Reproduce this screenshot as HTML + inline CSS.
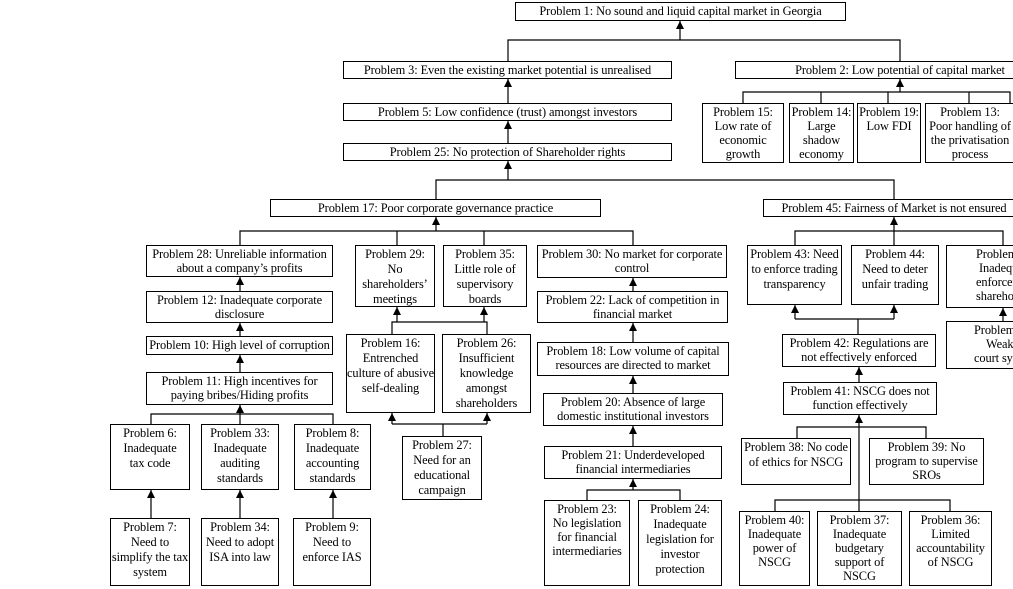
<!DOCTYPE html>
<html><head><meta charset="utf-8"><style>
html,body{margin:0;padding:0;background:#fff;}
#c{position:relative;width:1013px;height:589px;overflow:hidden;font-family:"Liberation Serif",serif;font-size:12.4px;color:#000;}
.b{position:absolute;border:1px solid #000;background:#fff;box-sizing:border-box;text-align:center;line-height:14px;padding-top:1px;white-space:nowrap;overflow:hidden;letter-spacing:-0.1px;}
.t{line-height:15px;}
svg{position:absolute;left:0;top:0;}
</style></head><body><div id="c">
<svg width="1013" height="589" viewBox="0 0 1013 589">
<defs><marker id="a" markerWidth="8" markerHeight="8" refX="4" refY="0" orient="0" markerUnits="userSpaceOnUse" viewBox="0 0 8 8"><path d="M0,8 L4,0 L8,8 Z" fill="#000"/></marker></defs>
<g stroke="#000" stroke-width="1.2" fill="none">
<path d="M680,40V21" marker-end="url(#a)"/>
<path d="M508,61V40H900V61"/>
<path d="M900,92V79" marker-end="url(#a)"/>
<path d="M743,103V92H1010V103M821,92V103M888,92V103M969,92V103"/>
<path d="M508,103V79" marker-end="url(#a)"/>
<path d="M508,143V121" marker-end="url(#a)"/>
<path d="M508,180V161" marker-end="url(#a)"/>
<path d="M436,199V180H894V199"/>
<path d="M436,231V217" marker-end="url(#a)"/>
<path d="M240,245V231H633V245M397,231V245M484,231V245"/>
<path d="M240,291V277" marker-end="url(#a)"/>
<path d="M240,336V323" marker-end="url(#a)"/>
<path d="M240,372V355" marker-end="url(#a)"/>
<path d="M240,414V405" marker-end="url(#a)"/>
<path d="M151,424V414H333V424M240,414V424"/>
<path d="M151,518V490" marker-end="url(#a)"/>
<path d="M240,518V490" marker-end="url(#a)"/>
<path d="M333,518V490" marker-end="url(#a)"/>
<path d="M397,322V307" marker-end="url(#a)"/>
<path d="M484,322V307" marker-end="url(#a)"/>
<path d="M392,334V322H487V334"/>
<path d="M392,424V413" marker-end="url(#a)"/>
<path d="M487,424V413" marker-end="url(#a)"/>
<path d="M392,424H487M443,424V436"/>
<path d="M633,291V278" marker-end="url(#a)"/>
<path d="M633,342V323" marker-end="url(#a)"/>
<path d="M633,393V376" marker-end="url(#a)"/>
<path d="M633,446V426" marker-end="url(#a)"/>
<path d="M633,490V479" marker-end="url(#a)"/>
<path d="M587,500V490H680V500"/>
<path d="M894,231V217" marker-end="url(#a)"/>
<path d="M795,245V231H1003V245M894,231V245"/>
<path d="M795,319V305" marker-end="url(#a)"/>
<path d="M894,319V305" marker-end="url(#a)"/>
<path d="M795,319H894M858,319V334"/>
<path d="M1003,321V308" marker-end="url(#a)"/>
<path d="M859,382V367" marker-end="url(#a)"/>
<path d="M859,511V415" marker-end="url(#a)"/>
<path d="M797,438V427H926V438"/>
<path d="M775,511V500H950V511"/>
</g></svg>

<div class="b" style="left:515px;top:2px;width:331px;height:19px">Problem 1: No sound and liquid capital market in Georgia</div>
<div class="b" style="left:343px;top:61px;width:329px;height:18px">Problem 3: Even the existing market potential is unrealised</div>
<div class="b" style="left:735px;top:61px;width:330px;height:18px">Problem 2: Low potential of capital market</div>
<div class="b" style="left:702px;top:103px;width:82px;height:60px">Problem 15:<br>Low rate of<br>economic<br>growth</div>
<div class="b" style="left:789px;top:103px;width:65px;height:60px">Problem 14:<br>Large<br>shadow<br>economy</div>
<div class="b" style="left:857px;top:103px;width:64px;height:60px">Problem 19:<br>Low FDI</div>
<div class="b" style="left:925px;top:103px;width:90px;height:60px">Problem 13:<br>Poor handling of<br>the privatisation<br>process</div>
<div class="b" style="left:343px;top:103px;width:329px;height:18px">Problem 5: Low confidence (trust) amongst investors</div>
<div class="b" style="left:343px;top:143px;width:329px;height:18px">Problem 25: No protection of Shareholder rights</div>
<div class="b" style="left:270px;top:199px;width:331px;height:18px">Problem 17: Poor corporate governance practice</div>
<div class="b" style="left:763px;top:199px;width:262px;height:18px">Problem 45: Fairness of Market is not ensured</div>

<div class="b" style="left:146px;top:245px;width:187px;height:32px">Problem 28: Unreliable information<br>about a company’s profits</div>
<div class="b" style="left:146px;top:291px;width:187px;height:32px">Problem 12: Inadequate corporate<br>disclosure</div>
<div class="b" style="left:146px;top:336px;width:187px;height:19px">Problem 10: High level of corruption</div>
<div class="b" style="left:146px;top:372px;width:187px;height:33px">Problem 11: High incentives for<br>paying bribes/Hiding profits</div>
<div class="b t" style="left:110px;top:424px;width:80px;height:66px">Problem 6:<br>Inadequate<br>tax code</div>
<div class="b t" style="left:201px;top:424px;width:78px;height:66px">Problem 33:<br>Inadequate<br>auditing<br>standards</div>
<div class="b t" style="left:294px;top:424px;width:77px;height:66px">Problem 8:<br>Inadequate<br>accounting<br>standards</div>
<div class="b t" style="left:110px;top:518px;width:80px;height:68px">Problem 7:<br>Need to<br>simplify the tax<br>system</div>
<div class="b t" style="left:201px;top:518px;width:78px;height:68px">Problem 34:<br>Need to adopt<br>ISA into law</div>
<div class="b t" style="left:293px;top:518px;width:78px;height:68px">Problem 9:<br>Need to<br>enforce IAS</div>

<div class="b t" style="left:355px;top:245px;width:80px;height:62px">Problem 29:<br>No<br>shareholders’<br>meetings</div>
<div class="b t" style="left:443px;top:245px;width:84px;height:62px">Problem 35:<br>Little role of<br>supervisory<br>boards</div>
<div class="b t" style="left:346px;top:334px;width:89px;height:79px">Problem 16:<br>Entrenched<br>culture of abusive<br>self-dealing</div>
<div class="b t" style="left:442px;top:334px;width:89px;height:79px">Problem 26:<br>Insufficient<br>knowledge<br>amongst<br>shareholders</div>
<div class="b t" style="left:402px;top:436px;width:80px;height:64px">Problem 27:<br>Need for an<br>educational<br>campaign</div>

<div class="b" style="left:537px;top:245px;width:190px;height:33px">Problem 30: No market for corporate<br>control</div>
<div class="b" style="left:537px;top:291px;width:191px;height:32px">Problem 22: Lack of competition in<br>financial market</div>
<div class="b" style="left:537px;top:342px;width:192px;height:34px">Problem 18: Low volume of capital<br>resources are directed to market</div>
<div class="b" style="left:543px;top:393px;width:180px;height:33px">Problem 20: Absence of large<br>domestic institutional investors</div>
<div class="b" style="left:544px;top:446px;width:178px;height:33px">Problem 21: Underdeveloped<br>financial intermediaries</div>
<div class="b" style="left:544px;top:500px;width:86px;height:86px">Problem 23:<br>No legislation<br>for financial<br>intermediaries</div>
<div class="b t" style="left:638px;top:500px;width:84px;height:86px">Problem 24:<br>Inadequate<br>legislation for<br>investor<br>protection</div>

<div class="b t" style="left:747px;top:245px;width:95px;height:60px">Problem 43: Need<br>to enforce trading<br>transparency</div>
<div class="b t" style="left:851px;top:245px;width:88px;height:60px">Problem 44:<br>Need to deter<br>unfair trading</div>
<div class="b" style="left:946px;top:245px;width:114px;height:63px;text-align:left;padding-left:29px">Problem 46:<br>&nbsp;Inadequate<br>enforcement of<br>shareholder rights</div>
<div class="b" style="left:946px;top:321px;width:114px;height:48px;text-align:left;padding-left:27px">Problem 47:<br>&nbsp;&nbsp;&nbsp;&nbsp;Weak<br>court system</div>
<div class="b" style="left:782px;top:334px;width:154px;height:33px">Problem 42: Regulations are<br>not effectively enforced</div>
<div class="b" style="left:783px;top:382px;width:154px;height:33px">Problem 41: NSCG does not<br>function effectively</div>
<div class="b t" style="left:741px;top:438px;width:110px;height:47px">Problem 38: No code<br>of ethics for NSCG</div>
<div class="b" style="left:869px;top:438px;width:115px;height:47px">Problem 39: No<br>program to supervise<br>SROs</div>
<div class="b" style="left:739px;top:511px;width:71px;height:75px">Problem 40:<br>Inadequate<br>power of<br>NSCG</div>
<div class="b" style="left:817px;top:511px;width:85px;height:75px">Problem 37:<br>Inadequate<br>budgetary<br>support of<br>NSCG</div>
<div class="b" style="left:909px;top:511px;width:83px;height:75px">Problem 36:<br>Limited<br>accountability<br>of NSCG</div>
</div></body></html>
